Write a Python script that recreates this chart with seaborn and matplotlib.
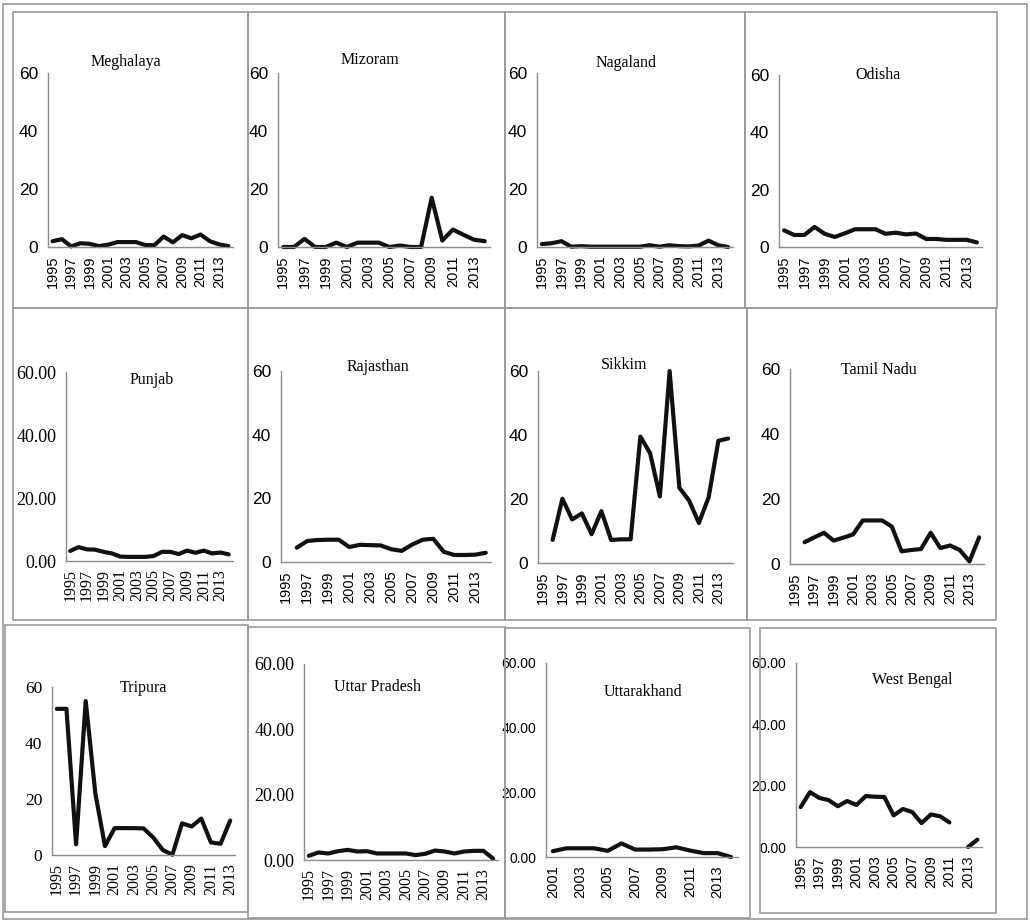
import numpy as np
import pandas as pd
import matplotlib
matplotlib.use("Agg")
import matplotlib.pyplot as plt
from matplotlib.patches import Rectangle
import seaborn as sns

sns.set_style("white")

W, H = 1030, 921
nan = np.nan

# ── data ──────────────────────────────────────────────────────────────────────
years_95_14 = list(range(1995, 2015))
years_95_13 = list(range(1995, 2014))
years_01_14 = list(range(2001, 2015))

meghalaya = [2.0, 2.7, 0.2, 1.3, 1.1, 0.3, 0.8, 1.7, 1.7, 1.7,
             0.7, 0.6, 3.6, 1.6, 4.1, 3.0, 4.3, 2.0, 0.9, 0.3]
mizoram = [0.0, 0.0, 2.8, 0.0, 0.0, 1.5, 0.0, 1.5, 1.5, 1.5,
           0.0, 0.5, 0.0, 0.0, 17.0, 2.2, 6.0, 4.2, 2.5, 2.0]
nagaland = [1.0, 1.3, 2.0, 0.1, 0.3, 0.1, 0.1, 0.1, 0.1, 0.1,
            0.1, 0.6, 0.1, 0.6, 0.3, 0.2, 0.5, 2.2, 0.6, 0.0]
odisha = [5.8, 4.2, 4.2, 7.0, 4.6, 3.5, 4.8, 6.2, 6.2, 6.2,
          4.6, 5.0, 4.4, 4.7, 2.8, 2.8, 2.5, 2.5, 2.5, 1.6]
punjab = [3.2, 4.4, 3.7, 3.6, 2.9, 2.4, 1.4, 1.3, 1.3, 1.3,
          1.6, 2.9, 2.9, 2.2, 3.3, 2.6, 3.3, 2.4, 2.7, 2.1]
rajasthan = [nan, 4.5, 6.6, 6.9, 7.0, 7.0, 4.7, 5.4, 5.3, 5.2,
             4.0, 3.5, 5.5, 7.0, 7.3, 3.2, 2.2, 2.2, 2.3, 2.9]
sikkim = [nan, 7.2, 20.1, 13.6, 15.5, 9.0, 16.2, 7.2, 7.4, 7.4,
          39.5, 34.3, 20.8, 60.0, 23.5, 19.5, 12.5, 20.5, 38.2, 38.9]
tamil_nadu = [nan, 6.7, 8.2, 9.6, 7.2, 8.1, 9.1, 13.4, 13.4, 13.4,
              11.5, 3.9, 4.3, 4.6, 9.6, 4.9, 5.7, 4.3, 0.8, 8.2]
tripura = [52.2, 52.2, 3.8, 55.0, 22.0, 3.2, 9.6, 9.6, 9.6, 9.5,
           6.3, 1.8, 0.1, 11.3, 10.2, 13.0, 4.5, 4.0, 12.3]
uttar_pradesh = [1.3, 2.3, 2.0, 2.7, 3.1, 2.6, 2.7, 2.0, 2.0, 2.0,
                 2.0, 1.5, 1.9, 2.9, 2.6, 2.0, 2.6, 2.8, 2.8, 0.4]
uttarakhand = [1.8, 2.7, 2.7, 2.7, 1.9, 4.2, 2.3, 2.3, 2.4, 3.0,
               2.0, 1.2, 1.2, 0.0]
west_bengal = [13.0, 17.9, 16.0, 15.3, 13.3, 15.0, 13.7, 16.6, 16.4, 16.3,
               10.3, 12.4, 11.4, 7.8, 10.6, 10.0, 8.0, nan, 0.0, 2.4]

y_ticks = [0, 20, 40, 60]

SANS = ["Liberation Sans Narrow", "Liberation Sans", "DejaVu Sans"]
SANS_X = ["Liberation Sans", "DejaVu Sans"]
SERIF = ["Liberation Serif", "DejaVu Serif"]

# name, years, values, axes box (l, t, r, b px), title (x, y px), y fmt, y font, x font
panels = [
    ("Meghalaya", years_95_14, meghalaya, (48, 73, 233, 247), (126, 62), "{:.0f}", SANS, SANS_X),
    ("Mizoram", years_95_14, mizoram, (278, 73, 490, 247), (370, 60), "{:.0f}", SANS, SANS_X),
    ("Nagaland", years_95_14, nagaland, (537, 73, 733, 247), (626, 63), "{:.0f}", SANS, SANS_X),
    ("Odisha", years_95_14, odisha, (779, 75, 982, 247), (878, 75), "{:.0f}", SANS, SANS_X),
    ("Punjab", years_95_14, punjab, (66, 372, 233, 561), (152, 380), "{:.2f}", SERIF, SERIF),
    ("Rajasthan", years_95_14, rajasthan, (281, 371, 491, 562), (378, 367), "{:.0f}", SANS, SANS_X),
    ("Sikkim", years_95_14, sikkim, (538, 371, 733, 563), (624, 365), "{:.0f}", SANS, SANS_X),
    ("Tamil Nadu", years_95_14, tamil_nadu, (790, 369, 984, 564), (879, 370), "{:.0f}", SANS, SANS_X),
    ("Tripura", years_95_13, tripura, (52, 687, 235, 855), (143, 688), "{:.0f}", SERIF, SERIF),
    ("Uttar Pradesh", years_95_14, uttar_pradesh, (304, 664, 498, 860), (378, 687), "{:.2f}", SERIF, SERIF),
    ("Uttarakhand", years_01_14, uttarakhand, (546, 663, 738, 857), (643, 692), "{:.2f}", SANS, SANS_X),
    ("West Bengal", years_95_14, west_bengal, (796, 663, 982, 847), (912, 680), "{:.2f}", SANS, SANS_X),
]

# panel frames (l, t, r, b px)
frames = [
    (13, 12, 248, 308), (248, 12, 505, 308), (505, 12, 745, 308), (745, 12, 997, 308),
    (13, 308, 248, 620), (248, 308, 505, 620), (505, 308, 747, 620), (747, 308, 996, 620),
    (5, 625, 248, 912), (248, 627, 505, 918), (505, 628, 750, 918), (760, 628, 996, 913),
]

GRID = "#8c8c8c"

fig = plt.figure(figsize=(W / 100, H / 100), dpi=100)


def px_rect(l, t, r, b, **kw):
    return Rectangle((l / W, 1 - b / H), (r - l) / W, (b - t) / H,
                     transform=fig.transFigure, fill=False, **kw)


fig.add_artist(px_rect(3, 4, 1027, 919, edgecolor="#9a9a9a", lw=1.2))
for fr in frames:
    fig.add_artist(px_rect(*fr, edgecolor="#9a9a9a", lw=1.2))

for name, years, vals, box, tpos, yfmt, yfont, xfont in panels:
    l, t, r, b = box
    ax = fig.add_axes([l / W, 1 - b / H, (r - l) / W, (b - t) / H])
    n = len(years)
    df = pd.DataFrame({"pos": np.arange(n), "val": vals})
    df["seg"] = df["val"].isna().cumsum()
    df = df.dropna()
    sns.lineplot(data=df, x="pos", y="val", units="seg", estimator=None,
                 color="#111111", lw=3.0, ax=ax, legend=False, clip_on=False)
    ax.set_xlim(-0.5, n - 0.5)
    ax.set_ylim(0, 60)
    ax.set_facecolor("none")
    for s in ["top", "right"]:
        ax.spines[s].set_visible(False)
    for s in ["left", "bottom"]:
        ax.spines[s].set_color(GRID)
        ax.spines[s].set_linewidth(1.0)

    # category axis: ticks between years, labels on every other year
    major = np.arange(0, n, 2)
    ax.set_xticks(major)
    ax.set_xticklabels([str(years[i]) for i in major], rotation=90)
    ax.set_xticks(np.arange(-0.5, n, 1.0), minor=True)
    ax.tick_params(axis="x", which="major", length=0, pad=6, labelcolor="black")
    ax.tick_params(axis="x", which="minor", length=5, color=GRID, width=1.0, direction="out")
    xsize = 10.5 if xfont is SANS_X else 11.5
    for lab in ax.get_xticklabels():
        lab.set_family(xfont)
        lab.set_fontsize(xsize)

    ax.set_yticks(y_ticks)
    ax.set_yticklabels([yfmt.format(v) for v in y_ticks])
    ax.tick_params(axis="y", length=4, color=GRID, width=1.0, direction="out", pad=3,
                   labelcolor="black")
    if yfont is SERIF:
        ysize = 13 if yfmt == "{:.2f}" else 12.5
    else:
        ysize = 10 if yfmt == "{:.2f}" else 12.5
    for lab in ax.get_yticklabels():
        lab.set_family(yfont)
        lab.set_fontsize(ysize)
    ax.set_xlabel("")
    ax.set_ylabel("")

    fig.text(tpos[0] / W, 1 - tpos[1] / H, name, ha="center", va="center",
             family=SERIF, fontsize=11.5, color="black")

fig.savefig("out.png", dpi=100, facecolor="white")
